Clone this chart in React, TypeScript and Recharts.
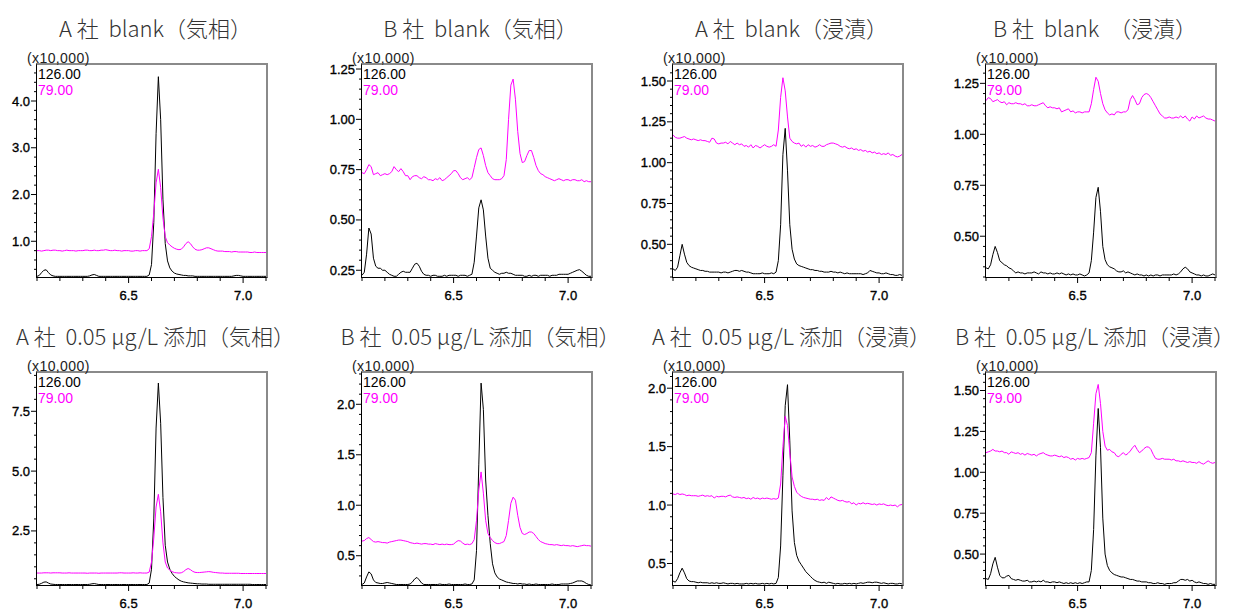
import React from "react";
import { LineChart, Line, XAxis, YAxis } from "recharts";

// retention time (min), sampled every 0.01 min
const TIME = [
  6.10, 6.11, 6.12, 6.13, 6.14, 6.15, 6.16, 6.17, 6.18, 6.19,
  6.20, 6.21, 6.22, 6.23, 6.24, 6.25, 6.26, 6.27, 6.28, 6.29,
  6.30, 6.31, 6.32, 6.33, 6.34, 6.35, 6.36, 6.37, 6.38, 6.39,
  6.40, 6.41, 6.42, 6.43, 6.44, 6.45, 6.46, 6.47, 6.48, 6.49,
  6.50, 6.51, 6.52, 6.53, 6.54, 6.55, 6.56, 6.57, 6.58, 6.59,
  6.60, 6.61, 6.62, 6.63, 6.64, 6.65, 6.66, 6.67, 6.68, 6.69,
  6.70, 6.71, 6.72, 6.73, 6.74, 6.75, 6.76, 6.77, 6.78, 6.79,
  6.80, 6.81, 6.82, 6.83, 6.84, 6.85, 6.86, 6.87, 6.88, 6.89,
  6.90, 6.91, 6.92, 6.93, 6.94, 6.95, 6.96, 6.97, 6.98, 6.99,
  7.00, 7.01, 7.02, 7.03, 7.04, 7.05, 7.06, 7.07, 7.08, 7.09, 7.10,
];

const X_TICKS = [6.1, 6.2, 6.3, 6.4, 6.5, 6.6, 6.7, 6.8, 6.9, 7.0, 7.1];
const X_LABELS = [6.5, 7.0];
const X_LABEL_TEXT = ["6.5", "7.0"];

// intensities (x10,000): K = m/z 126.00 (black), M = m/z 79.00 (magenta)
const A_GAS_BLANK_K = [
  0.25, 0.27, 0.33, 0.38, 0.39, 0.33, 0.28, 0.26, 0.25, 0.25,
  0.25, 0.25, 0.25, 0.25, 0.25, 0.25, 0.25, 0.25, 0.25, 0.25,
  0.25, 0.25, 0.25, 0.26, 0.28, 0.29, 0.27, 0.25, 0.25, 0.25,
  0.25, 0.25, 0.25, 0.25, 0.25, 0.25, 0.25, 0.25, 0.25, 0.25,
  0.25, 0.25, 0.25, 0.25, 0.25, 0.25, 0.25, 0.25, 0.25, 0.28,
  0.50, 1.40, 3.30, 4.52, 3.60, 1.90, 0.95, 0.58, 0.43, 0.36,
  0.32, 0.30, 0.29, 0.28, 0.27, 0.27, 0.26, 0.26, 0.26, 0.25,
  0.25, 0.25, 0.25, 0.25, 0.25, 0.25, 0.25, 0.25, 0.25, 0.25,
  0.25, 0.25, 0.25, 0.25, 0.25, 0.25, 0.26, 0.27, 0.27, 0.26,
  0.25, 0.25, 0.25, 0.25, 0.25, 0.25, 0.25, 0.25, 0.25, 0.25, 0.25,
];
const A_GAS_BLANK_M = [
  0.80, 0.80, 0.79, 0.80, 0.81, 0.81, 0.80, 0.81, 0.81, 0.80,
  0.80, 0.79, 0.80, 0.81, 0.80, 0.80, 0.80, 0.79, 0.80, 0.80,
  0.80, 0.81, 0.81, 0.80, 0.80, 0.81, 0.80, 0.80, 0.81, 0.81,
  0.82, 0.81, 0.80, 0.80, 0.81, 0.80, 0.80, 0.79, 0.80, 0.80,
  0.80, 0.79, 0.79, 0.80, 0.80, 0.79, 0.80, 0.80, 0.80, 0.84,
  1.10, 1.60, 2.25, 2.54, 2.15, 1.50, 1.10, 0.97, 0.92, 0.88,
  0.85, 0.83, 0.82, 0.83, 0.88, 0.95, 0.99, 0.95, 0.88, 0.83,
  0.81, 0.81, 0.82, 0.84, 0.86, 0.86, 0.84, 0.82, 0.80, 0.79,
  0.79, 0.79, 0.78, 0.78, 0.78, 0.77, 0.78, 0.78, 0.77, 0.77,
  0.77, 0.77, 0.77, 0.76, 0.76, 0.77, 0.76, 0.76, 0.76, 0.76, 0.76,
];

const B_GAS_BLANK_K = [
  0.225, 0.24, 0.33, 0.46, 0.43, 0.31, 0.27, 0.26, 0.26, 0.25,
  0.25, 0.24, 0.23, 0.225, 0.22, 0.22, 0.23, 0.24, 0.245, 0.24,
  0.24, 0.24, 0.26, 0.28, 0.285, 0.27, 0.245, 0.23, 0.225, 0.225,
  0.22, 0.225, 0.225, 0.22, 0.22, 0.22, 0.225, 0.22, 0.225, 0.225,
  0.225, 0.225, 0.22, 0.225, 0.225, 0.225, 0.22, 0.225, 0.23, 0.29,
  0.42, 0.56, 0.60, 0.55, 0.42, 0.31, 0.26, 0.25, 0.24, 0.235,
  0.23, 0.235, 0.235, 0.24, 0.235, 0.235, 0.23, 0.225, 0.225, 0.225,
  0.225, 0.22, 0.22, 0.225, 0.22, 0.225, 0.225, 0.22, 0.225, 0.225,
  0.225, 0.225, 0.22, 0.225, 0.225, 0.225, 0.23, 0.23, 0.23, 0.23,
  0.23, 0.235, 0.24, 0.245, 0.25, 0.253, 0.245, 0.235, 0.225, 0.22, 0.22,
];
const B_GAS_BLANK_M = [
  0.735, 0.73, 0.75, 0.775, 0.765, 0.725, 0.73, 0.735, 0.72, 0.725,
  0.73, 0.725, 0.73, 0.74, 0.765, 0.75, 0.74, 0.755, 0.74, 0.72,
  0.72, 0.70, 0.715, 0.72, 0.72, 0.71, 0.705, 0.715, 0.71, 0.70,
  0.70, 0.695, 0.705, 0.70, 0.71, 0.695, 0.70, 0.71, 0.72, 0.73,
  0.745, 0.745, 0.73, 0.71, 0.70, 0.705, 0.71, 0.70, 0.71, 0.76,
  0.81, 0.85, 0.858, 0.82, 0.77, 0.735, 0.72, 0.705, 0.70, 0.70,
  0.70, 0.705, 0.72, 0.80, 1.00, 1.17, 1.20, 1.10, 0.94, 0.83,
  0.785, 0.79, 0.82, 0.845, 0.845, 0.81, 0.77, 0.745, 0.73, 0.725,
  0.715, 0.71, 0.705, 0.70, 0.695, 0.70, 0.705, 0.70, 0.695, 0.70,
  0.70, 0.695, 0.70, 0.70, 0.695, 0.695, 0.70, 0.69, 0.695, 0.69, 0.69,
];

const A_IMM_BLANK_K = [
  0.35, 0.34, 0.36, 0.43, 0.50, 0.44, 0.39, 0.37, 0.36, 0.355,
  0.35, 0.345, 0.34, 0.34, 0.335, 0.335, 0.33, 0.33, 0.33, 0.33,
  0.33, 0.325, 0.33, 0.33, 0.325, 0.33, 0.335, 0.34, 0.34, 0.335,
  0.34, 0.335, 0.33, 0.33, 0.325, 0.32, 0.32, 0.32, 0.32, 0.325,
  0.32, 0.32, 0.32, 0.325, 0.32, 0.33, 0.40, 0.62, 1.05, 1.21,
  0.95, 0.62, 0.47, 0.41, 0.38, 0.37, 0.365, 0.36, 0.355, 0.35,
  0.345, 0.345, 0.34, 0.34, 0.335, 0.335, 0.33, 0.33, 0.33, 0.335,
  0.33, 0.33, 0.325, 0.33, 0.325, 0.32, 0.325, 0.32, 0.32, 0.32,
  0.32, 0.32, 0.32, 0.315, 0.32, 0.325, 0.34, 0.335, 0.33, 0.325,
  0.325, 0.32, 0.32, 0.325, 0.32, 0.315, 0.315, 0.31, 0.31, 0.315, 0.31,
];
const A_IMM_BLANK_M = [
  1.17, 1.155, 1.15, 1.15, 1.155, 1.16, 1.15, 1.145, 1.14, 1.145,
  1.14, 1.135, 1.14, 1.135, 1.135, 1.13, 1.125, 1.15, 1.145, 1.12,
  1.115, 1.12, 1.12, 1.125, 1.115, 1.13, 1.12, 1.11, 1.12, 1.11,
  1.115, 1.10, 1.105, 1.095, 1.11, 1.09, 1.105, 1.10, 1.09, 1.10,
  1.11, 1.10, 1.095, 1.10, 1.11, 1.10, 1.20, 1.40, 1.52, 1.44,
  1.28, 1.15, 1.13, 1.12, 1.115, 1.12, 1.10, 1.11, 1.095, 1.11,
  1.10, 1.105, 1.095, 1.10, 1.11, 1.10, 1.10, 1.11, 1.115, 1.12,
  1.12, 1.115, 1.11, 1.10, 1.095, 1.10, 1.09, 1.085, 1.09, 1.08,
  1.085, 1.075, 1.08, 1.07, 1.075, 1.065, 1.07, 1.06, 1.065, 1.055,
  1.06, 1.05, 1.055, 1.05, 1.06, 1.045, 1.05, 1.04, 1.035, 1.04, 1.05,
];

const B_IMM_BLANK_K = [
  0.345, 0.34, 0.36, 0.41, 0.45, 0.42, 0.38, 0.37, 0.36, 0.355,
  0.345, 0.34, 0.33, 0.32, 0.325, 0.32, 0.32, 0.315, 0.32, 0.32,
  0.32, 0.325, 0.32, 0.315, 0.325, 0.32, 0.32, 0.315, 0.32, 0.315,
  0.315, 0.32, 0.315, 0.32, 0.315, 0.31, 0.315, 0.31, 0.315, 0.31,
  0.31, 0.315, 0.31, 0.305, 0.31, 0.32, 0.38, 0.52, 0.69, 0.74,
  0.62, 0.45, 0.385, 0.36, 0.35, 0.345, 0.34, 0.33, 0.325, 0.325,
  0.33, 0.32, 0.325, 0.32, 0.315, 0.31, 0.315, 0.31, 0.31, 0.305,
  0.31, 0.305, 0.31, 0.305, 0.31, 0.31, 0.305, 0.31, 0.31, 0.31,
  0.31, 0.31, 0.315, 0.31, 0.315, 0.325, 0.34, 0.348, 0.34, 0.325,
  0.32, 0.315, 0.31, 0.31, 0.305, 0.31, 0.305, 0.305, 0.31, 0.315, 0.31,
];
const B_IMM_BLANK_M = [
  1.165, 1.18, 1.175, 1.16, 1.165, 1.17, 1.16, 1.155, 1.16, 1.145,
  1.155, 1.15, 1.15, 1.155, 1.15, 1.15, 1.145, 1.15, 1.14, 1.14,
  1.145, 1.14, 1.14, 1.145, 1.15, 1.155, 1.14, 1.13, 1.135, 1.13,
  1.13, 1.125, 1.13, 1.11, 1.115, 1.12, 1.125, 1.11, 1.115, 1.105,
  1.11, 1.11, 1.105, 1.11, 1.11, 1.11, 1.15, 1.22, 1.28, 1.26,
  1.20, 1.15, 1.12, 1.105, 1.095, 1.10, 1.095, 1.11, 1.11, 1.105,
  1.11, 1.11, 1.12, 1.17, 1.19, 1.17, 1.145, 1.15, 1.18, 1.195,
  1.20, 1.195, 1.18, 1.16, 1.14, 1.12, 1.10, 1.09, 1.08, 1.08,
  1.085, 1.08, 1.08, 1.085, 1.08, 1.09, 1.08, 1.09, 1.075, 1.065,
  1.085, 1.075, 1.09, 1.08, 1.085, 1.09, 1.08, 1.075, 1.075, 1.07, 1.065,
];

const A_GAS_SPIKE_K = [
  0.26, 0.27, 0.31, 0.36, 0.37, 0.32, 0.28, 0.27, 0.26, 0.26,
  0.26, 0.26, 0.26, 0.26, 0.26, 0.26, 0.26, 0.26, 0.26, 0.26,
  0.26, 0.26, 0.26, 0.27, 0.29, 0.30, 0.28, 0.26, 0.26, 0.26,
  0.26, 0.26, 0.26, 0.26, 0.26, 0.26, 0.26, 0.26, 0.26, 0.26,
  0.26, 0.26, 0.26, 0.26, 0.26, 0.26, 0.26, 0.26, 0.26, 0.32,
  0.90, 3.00, 6.80, 8.68, 7.00, 3.90, 1.90, 1.20, 0.90, 0.72,
  0.60, 0.52, 0.45, 0.40, 0.37, 0.35, 0.33, 0.32, 0.31, 0.30,
  0.29, 0.29, 0.28, 0.28, 0.28, 0.27, 0.27, 0.27, 0.27, 0.27,
  0.27, 0.27, 0.27, 0.27, 0.27, 0.27, 0.27, 0.27, 0.27, 0.27,
  0.27, 0.27, 0.27, 0.27, 0.26, 0.26, 0.26, 0.26, 0.26, 0.26, 0.26,
];
const A_GAS_SPIKE_M = [
  0.74, 0.74, 0.74, 0.75, 0.75, 0.75, 0.74, 0.75, 0.75, 0.75,
  0.75, 0.74, 0.74, 0.74, 0.75, 0.74, 0.74, 0.74, 0.74, 0.74,
  0.74, 0.74, 0.73, 0.74, 0.74, 0.74, 0.74, 0.73, 0.74, 0.74,
  0.74, 0.74, 0.74, 0.74, 0.74, 0.74, 0.75, 0.75, 0.74, 0.74,
  0.74, 0.74, 0.75, 0.74, 0.74, 0.75, 0.74, 0.74, 0.74, 0.78,
  1.20, 2.20, 3.50, 4.03, 3.30, 2.00, 1.20, 0.95, 0.86, 0.80,
  0.76, 0.75, 0.74, 0.75, 0.80, 0.88, 0.93, 0.88, 0.81, 0.77,
  0.76, 0.76, 0.77, 0.78, 0.79, 0.80, 0.79, 0.77, 0.76, 0.75,
  0.74, 0.74, 0.73, 0.73, 0.73, 0.73, 0.73, 0.73, 0.73, 0.72,
  0.72, 0.72, 0.72, 0.72, 0.72, 0.72, 0.72, 0.72, 0.72, 0.72, 0.72,
];

const B_GAS_SPIKE_K = [
  0.215, 0.23, 0.29, 0.34, 0.32, 0.26, 0.235, 0.23, 0.225, 0.225,
  0.23, 0.235, 0.23, 0.225, 0.22, 0.215, 0.215, 0.215, 0.215, 0.215,
  0.215, 0.22, 0.24, 0.27, 0.285, 0.26, 0.23, 0.215, 0.215, 0.215,
  0.215, 0.215, 0.215, 0.215, 0.22, 0.215, 0.215, 0.215, 0.22, 0.215,
  0.215, 0.215, 0.215, 0.215, 0.215, 0.22, 0.215, 0.215, 0.22, 0.26,
  0.55, 1.40, 2.21, 1.95, 1.25, 0.90, 0.62, 0.42, 0.33, 0.29,
  0.27, 0.26, 0.25, 0.24, 0.235, 0.23, 0.225, 0.225, 0.22, 0.225,
  0.22, 0.22, 0.215, 0.22, 0.215, 0.215, 0.22, 0.215, 0.215, 0.215,
  0.215, 0.215, 0.215, 0.22, 0.215, 0.215, 0.215, 0.22, 0.22, 0.22,
  0.22, 0.225, 0.23, 0.24, 0.25, 0.25, 0.25, 0.24, 0.225, 0.215, 0.21,
];
const B_GAS_SPIKE_M = [
  0.645, 0.65, 0.67, 0.68, 0.66, 0.64, 0.635, 0.64, 0.635, 0.63,
  0.63, 0.625, 0.635, 0.64, 0.645, 0.65, 0.655, 0.655, 0.65, 0.645,
  0.64, 0.63, 0.625, 0.62, 0.625, 0.62, 0.615, 0.62, 0.62, 0.615,
  0.615, 0.61, 0.62, 0.615, 0.61, 0.615, 0.61, 0.615, 0.61, 0.61,
  0.615, 0.635, 0.65, 0.645, 0.625, 0.61, 0.615, 0.61, 0.62, 0.66,
  0.85, 1.15, 1.33, 1.12, 0.85, 0.72, 0.68, 0.65, 0.63, 0.62,
  0.62, 0.63, 0.64, 0.70, 0.85, 1.02, 1.08, 1.05, 0.90, 0.78,
  0.72, 0.71, 0.72, 0.735, 0.735, 0.72, 0.69, 0.66, 0.64, 0.63,
  0.62, 0.615, 0.61, 0.61, 0.605, 0.61, 0.605, 0.60, 0.605, 0.60,
  0.60, 0.595, 0.60, 0.595, 0.59, 0.595, 0.60, 0.605, 0.60, 0.60, 0.595,
];

const A_IMM_SPIKE_K = [
  0.35, 0.34, 0.37, 0.42, 0.46, 0.42, 0.37, 0.35, 0.345, 0.345,
  0.34, 0.335, 0.34, 0.335, 0.335, 0.335, 0.33, 0.335, 0.33, 0.335,
  0.33, 0.33, 0.335, 0.33, 0.325, 0.33, 0.33, 0.325, 0.33, 0.325,
  0.325, 0.325, 0.33, 0.325, 0.33, 0.325, 0.33, 0.325, 0.325, 0.33,
  0.325, 0.33, 0.325, 0.33, 0.325, 0.33, 0.38, 0.65, 1.25, 1.85,
  2.03, 1.55, 0.95, 0.68, 0.57, 0.52, 0.49, 0.46, 0.43, 0.41,
  0.39, 0.37, 0.355, 0.345, 0.34, 0.335, 0.34, 0.33, 0.34, 0.335,
  0.33, 0.325, 0.33, 0.325, 0.325, 0.33, 0.325, 0.33, 0.325, 0.33,
  0.325, 0.33, 0.335, 0.33, 0.335, 0.34, 0.34, 0.335, 0.34, 0.34,
  0.335, 0.33, 0.335, 0.33, 0.325, 0.33, 0.33, 0.325, 0.325, 0.33, 0.325,
];
const A_IMM_SPIKE_M = [
  1.095, 1.09, 1.10, 1.09, 1.095, 1.09, 1.08, 1.085, 1.08, 1.08,
  1.08, 1.075, 1.08, 1.085, 1.075, 1.08, 1.075, 1.08, 1.06, 1.075,
  1.07, 1.075, 1.075, 1.07, 1.08, 1.085, 1.07, 1.065, 1.07, 1.065,
  1.06, 1.065, 1.055, 1.06, 1.05, 1.065, 1.055, 1.06, 1.05, 1.06,
  1.055, 1.06, 1.055, 1.05, 1.055, 1.05, 1.06, 1.18, 1.50, 1.76,
  1.68, 1.45, 1.24, 1.16, 1.11, 1.09, 1.075, 1.065, 1.06, 1.055,
  1.05, 1.05, 1.045, 1.05, 1.04, 1.045, 1.04, 1.065, 1.045, 1.07,
  1.06, 1.05, 1.04, 1.035, 1.04, 1.03, 1.025, 1.03, 1.01, 1.02,
  1.00, 1.015, 1.01, 1.02, 1.01, 1.015, 1.01, 1.005, 1.01, 1.00,
  1.01, 1.005, 1.01, 1.00, 0.995, 1.00, 0.995, 1.00, 0.985, 1.00, 1.005,
];

const B_IMM_SPIKE_K = [
  0.35, 0.345, 0.38, 0.44, 0.48, 0.42, 0.37, 0.355, 0.355, 0.365,
  0.37, 0.35, 0.345, 0.34, 0.345, 0.34, 0.335, 0.335, 0.34, 0.33,
  0.33, 0.335, 0.33, 0.335, 0.33, 0.34, 0.33, 0.33, 0.325, 0.33,
  0.33, 0.325, 0.33, 0.325, 0.32, 0.325, 0.32, 0.325, 0.32, 0.325,
  0.32, 0.325, 0.32, 0.325, 0.33, 0.33, 0.40, 0.65, 1.10, 1.39,
  1.15, 0.72, 0.50, 0.43, 0.40, 0.385, 0.375, 0.37, 0.365, 0.36,
  0.36, 0.355, 0.35, 0.345, 0.345, 0.34, 0.335, 0.335, 0.33, 0.33,
  0.33, 0.325, 0.325, 0.32, 0.32, 0.325, 0.32, 0.32, 0.315, 0.32,
  0.32, 0.32, 0.325, 0.325, 0.335, 0.345, 0.345, 0.34, 0.345, 0.335,
  0.34, 0.33, 0.325, 0.33, 0.325, 0.32, 0.32, 0.315, 0.32, 0.315, 0.315,
];
const B_IMM_SPIKE_M = [
  1.12, 1.125, 1.13, 1.14, 1.13, 1.13, 1.125, 1.13, 1.12, 1.12,
  1.11, 1.125, 1.12, 1.115, 1.12, 1.11, 1.115, 1.105, 1.115, 1.11,
  1.105, 1.11, 1.10, 1.11, 1.115, 1.12, 1.11, 1.105, 1.10, 1.10,
  1.105, 1.10, 1.095, 1.10, 1.09, 1.095, 1.09, 1.08, 1.085, 1.075,
  1.085, 1.08, 1.085, 1.08, 1.085, 1.09, 1.12, 1.30, 1.48, 1.537,
  1.42, 1.25, 1.16, 1.135, 1.14, 1.125, 1.12, 1.10, 1.095, 1.11,
  1.12, 1.105, 1.115, 1.13, 1.15, 1.165, 1.14, 1.12, 1.13, 1.145,
  1.155, 1.155, 1.14, 1.11, 1.085, 1.08, 1.08, 1.085, 1.08, 1.08,
  1.08, 1.075, 1.08, 1.07, 1.07, 1.065, 1.07, 1.065, 1.06, 1.065,
  1.06, 1.06, 1.055, 1.065, 1.055, 1.05, 1.06, 1.07, 1.06, 1.055, 1.06,
];

const PAGE_W = 1242;
const PLOT_W = 229;
const PLOT_H = 212;
const COL_LEFT = [37, 362, 673, 986];
const ROW_TOP = [65, 372.5];
const TITLE_W = 290;

interface PanelDef {
  title: string;
  k: number[];
  m: number[];
  domain: [number, number];
  majors: number[];
  labels: string[];
  minorStep: number;
}

const PANELS: PanelDef[] = [
  { title: "A 社  blank（気相）", k: A_GAS_BLANK_K, m: A_GAS_BLANK_M, domain: [0.236, 4.77], majors: [1, 2, 3, 4], labels: ["1.0", "2.0", "3.0", "4.0"], minorStep: 0.2 },
  { title: "B 社  blank（気相）", k: B_GAS_BLANK_K, m: B_GAS_BLANK_M, domain: [0.2165, 1.27], majors: [0.25, 0.5, 0.75, 1, 1.25], labels: ["0.25", "0.50", "0.75", "1.00", "1.25"], minorStep: 0.05 },
  { title: "A 社  blank（浸漬）", k: A_IMM_BLANK_K, m: A_IMM_BLANK_M, domain: [0.3, 1.598], majors: [0.5, 0.75, 1, 1.25, 1.5], labels: ["0.50", "0.75", "1.00", "1.25", "1.50"], minorStep: 0.05 },
  { title: "B 社  blank  （浸漬）", k: B_IMM_BLANK_K, m: B_IMM_BLANK_M, domain: [0.3, 1.34], majors: [0.5, 0.75, 1, 1.25], labels: ["0.50", "0.75", "1.00", "1.25"], minorStep: 0.05 },
  { title: "A 社  0.05 μg/L 添加（気相）", k: A_GAS_SPIKE_K, m: A_GAS_SPIKE_M, domain: [0.24, 9.1], majors: [2.5, 5, 7.5], labels: ["2.5", "5.0", "7.5"], minorStep: 0.5 },
  { title: "B 社  0.05 μg/L 添加（気相）", k: B_GAS_SPIKE_K, m: B_GAS_SPIKE_M, domain: [0.21, 2.31], majors: [0.5, 1, 1.5, 2], labels: ["0.5", "1.0", "1.5", "2.0"], minorStep: 0.1 },
  { title: "A 社  0.05 μg/L 添加（浸漬）", k: A_IMM_SPIKE_K, m: A_IMM_SPIKE_M, domain: [0.316, 2.13], majors: [0.5, 1, 1.5, 2], labels: ["0.5", "1.0", "1.5", "2.0"], minorStep: 0.1 },
  { title: "B 社  0.05 μg/L 添加（浸漬）", k: B_IMM_SPIKE_K, m: B_IMM_SPIKE_M, domain: [0.311, 1.607], majors: [0.5, 0.75, 1, 1.25, 1.5], labels: ["0.50", "0.75", "1.00", "1.25", "1.50"], minorStep: 0.05 },
];

const TICK_FONT = "'Liberation Sans', Arial, sans-serif";
const MAGENTA = "#ff00ff";

function minorTicks(domain: [number, number], step: number) {
  const out: number[] = [];
  const start = Math.ceil(domain[0] / step - 1e-6);
  for (let i = start; i * step <= domain[1] + 1e-9; i++) {
    out.push(Math.round(i * step * 1000) / 1000);
  }
  return out;
}

function findLabel(values: number[], labels: string[], v: number) {
  const idx = values.findIndex((x) => Math.abs(x - v) < 1e-6);
  return idx >= 0 ? labels[idx] : null;
}

function Panel({ def, col, row }: { def: PanelDef; col: number; row: number }) {
  const left = COL_LEFT[col];
  const top = ROW_TOP[row];
  const data = TIME.map((t, i) => ({ t, k: def.k[i], m: def.m[i] }));
  const yTicks = minorTicks(def.domain, def.minorStep);
  // keep the title box inside the page on the right edge
  const titleLeft = Math.min(left + PLOT_W / 2 + 4 - TITLE_W / 2, PAGE_W - TITLE_W - 2);

  const yTick = (props: any) => {
    const { x, y, payload } = props;
    const label = findLabel(def.majors, def.labels, payload.value);
    return (
      <g>
        <line x1={x - (label ? 6 : 3)} x2={x} y1={y} y2={y} stroke="#000" strokeWidth={1} />
        {label && (
          <text x={x - 7} y={y} textAnchor="end" dominantBaseline="central" fontFamily={TICK_FONT} fontSize={13} fill="#000" stroke="#000" strokeWidth={0.35}>
            {label}
          </text>
        )}
      </g>
    );
  };

  const xTick = (props: any) => {
    const { x, y, payload } = props;
    const label = findLabel(X_LABELS, X_LABEL_TEXT, payload.value);
    return (
      <g>
        <line x1={x} x2={x} y1={y} y2={y + (label ? 6 : 4)} stroke="#000" strokeWidth={1} />
        {label && (
          <text x={x} y={y + 18} textAnchor="middle" dominantBaseline="central" fontFamily={TICK_FONT} fontSize={13} fill="#000" stroke="#000" strokeWidth={0.35}>
            {label}
          </text>
        )}
      </g>
    );
  };

  return (
    <>
      <div
        style={{
          position: "absolute",
          left: titleLeft,
          top: top - 52,
          width: TITLE_W,
          height: 28,
          lineHeight: "28px",
          textAlign: "center",
          whiteSpace: "pre",
          fontFamily: "'Noto Sans CJK JP', sans-serif",
          fontWeight: 300,
          fontSize: 22,
          color: "#333",
        }}
      >
        {def.title}
      </div>
      <div style={{ position: "absolute", left: left - 40, top: top - 4 }}>
        <LineChart width={40 + PLOT_W + 4} height={4 + PLOT_H + 28} data={data} margin={{ top: 4, right: 4, bottom: 0, left: 0 }}>
          <XAxis
            dataKey="t"
            type="number"
            domain={[6.1, 7.1]}
            ticks={X_TICKS}
            interval={0}
            allowDataOverflow
            axisLine={false}
            tickLine={false}
            tickSize={0}
            tickMargin={0}
            height={28}
            tick={xTick}
          />
          <YAxis
            type="number"
            domain={def.domain}
            ticks={yTicks}
            interval={0}
            allowDataOverflow
            axisLine={false}
            tickLine={false}
            tickSize={0}
            tickMargin={0}
            width={40}
            tick={yTick}
          />
          <Line dataKey="k" type="linear" stroke="#000" strokeWidth={1} dot={false} isAnimationActive={false} />
          <Line dataKey="m" type="linear" stroke={MAGENTA} strokeWidth={1} dot={false} isAnimationActive={false} />
        </LineChart>
      </div>
      <div
        style={{
          position: "absolute",
          left: left - 1,
          top: top - 2,
          width: PLOT_W + 3,
          height: PLOT_H + 3,
          boxSizing: "border-box",
          borderLeft: "1px solid #000",
          borderBottom: "1px solid #000",
          borderTop: "2px solid #8a8a8a",
          borderRight: "2px solid #8a8a8a",
          pointerEvents: "none",
        }}
      />
      <div style={{ position: "absolute", left: left - 10, top: top - 15, fontFamily: TICK_FONT, fontSize: 14, letterSpacing: 0.4, lineHeight: "16px", color: "#222" }}>
        (x10,000)
      </div>
      <div style={{ position: "absolute", left: left + 1, top: top + 1, fontFamily: TICK_FONT, fontSize: 14, lineHeight: "16px", color: "#000" }}>
        126.00
      </div>
      <div style={{ position: "absolute", left: left + 1, top: top + 17, fontFamily: TICK_FONT, fontSize: 14, lineHeight: "16px", color: MAGENTA }}>
        79.00
      </div>
    </>
  );
}

export default function App() {
  return (
    <div style={{ position: "relative", width: PAGE_W, height: 612, background: "#fff", overflow: "hidden" }}>
      <style>{`body { margin: 0; }`}</style>
      {PANELS.map((def, i) => (
        <Panel key={i} def={def} col={i % 4} row={Math.floor(i / 4)} />
      ))}
    </div>
  );
}
